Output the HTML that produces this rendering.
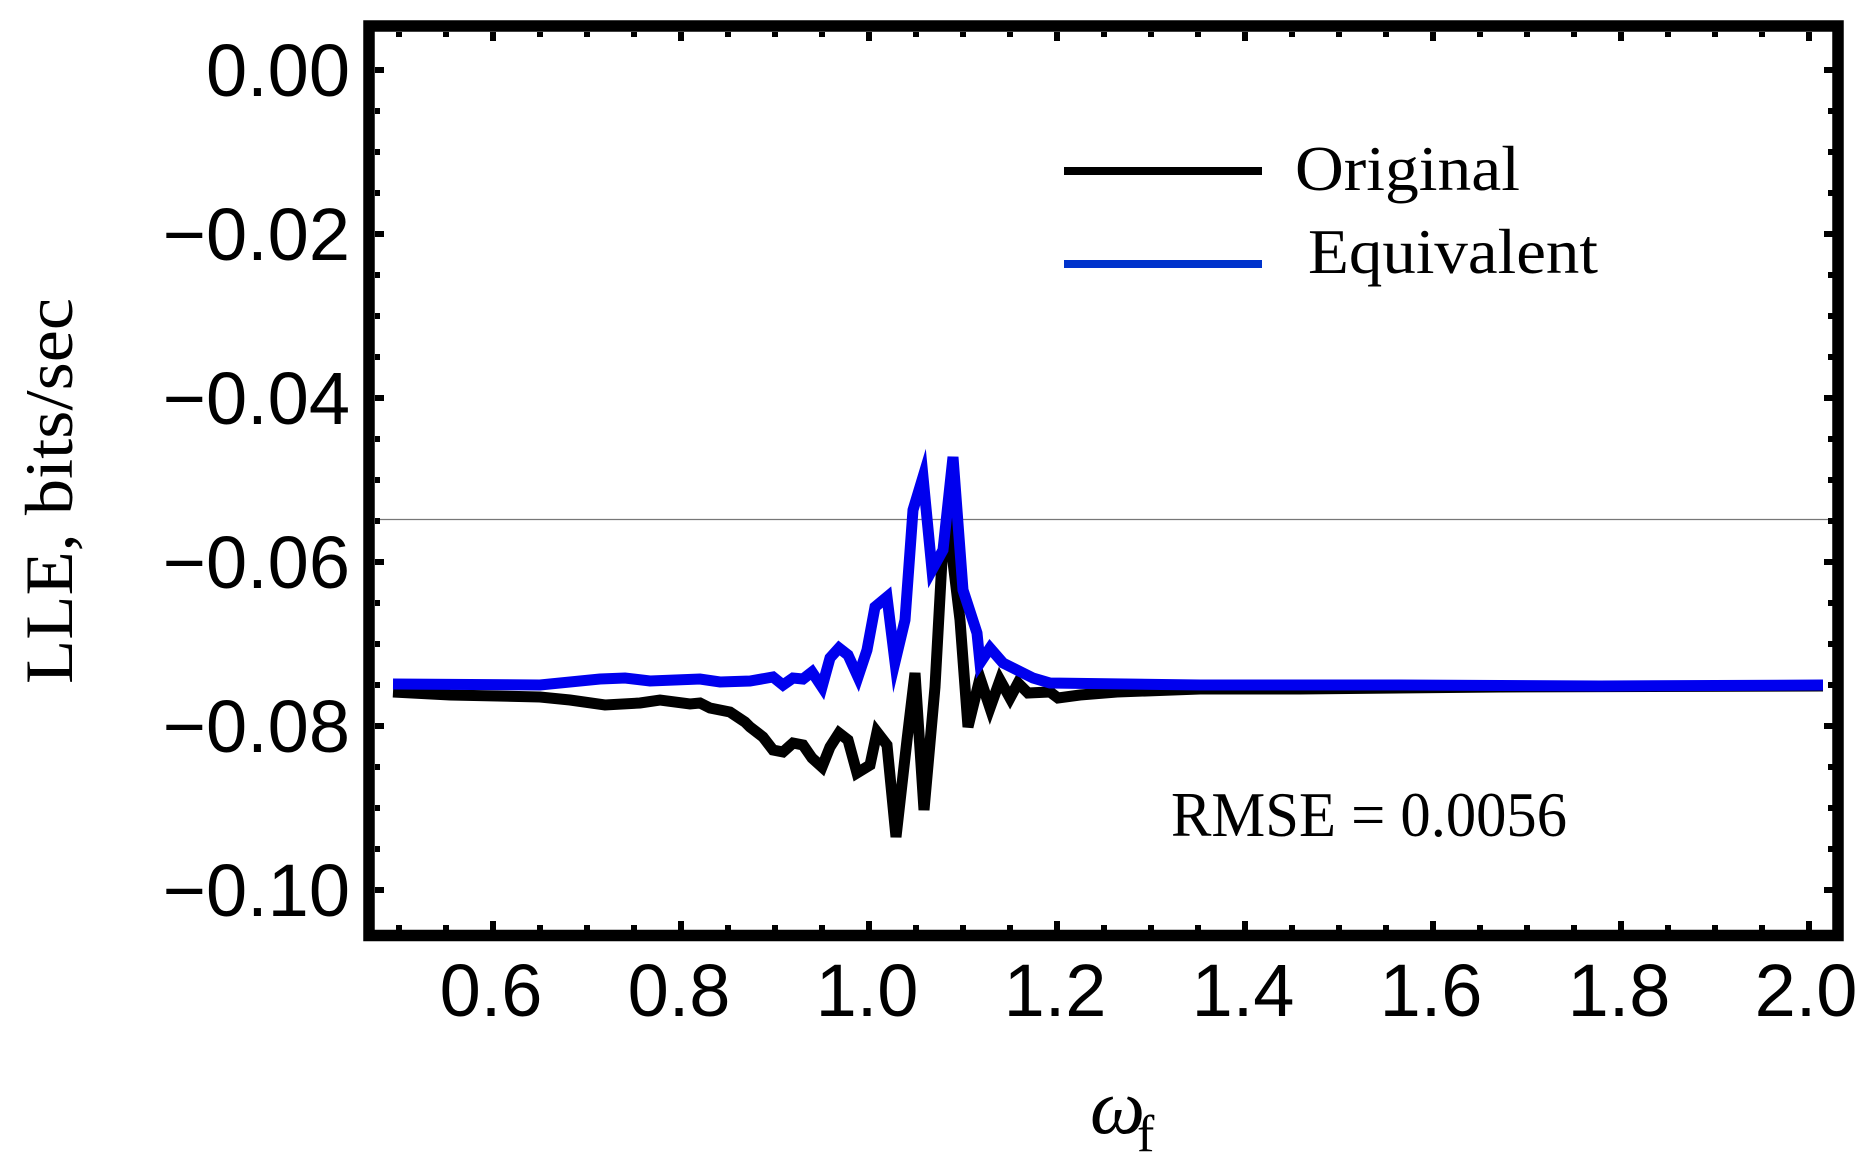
<!DOCTYPE html>
<html><head><meta charset="utf-8"><style>
html,body{margin:0;padding:0;background:#fff;}
svg{display:block;}
</style></head><body>
<svg width="1870" height="1175" viewBox="0 0 1870 1175" xmlns="http://www.w3.org/2000/svg">
<rect width="1870" height="1175" fill="#fff"/>
<line x1="375" y1="519.5" x2="1833" y2="519.5" stroke="#777" stroke-width="1.3"/>
<polyline fill="none" stroke="#000" stroke-width="11" stroke-linejoin="miter" stroke-miterlimit="6" points="
393,692 450,695 540,697 570,700 605,705 640,703 660,700 690,704 700,703 710,708 730,712 745,722 750,727 763,737 773,750 783,752 793,743 803,745 812,758 822,767 830,747 839,733 848,740 857,773 870,765 877,732 887,745 896,837 907,740 915,673 924,810 935,687 942,560 950,537 960,620 968,727 980,678 990,708 1000,680 1010,698 1018,683 1028,693 1050,692 1058,698 1080,695 1117,692 1200,689 1300,689 1500,687 1823,686"/>
<polyline fill="none" stroke="#0000ee" stroke-width="11" stroke-linejoin="miter" stroke-miterlimit="6" points="
393,684 540,685 600,679 625,678 650,681 700,679 720,682 750,681 773,677 783,685 793,678 803,679 812,672 822,687 830,658 839,648 848,655 858,677 867,650 875,607 887,597 895,662 905,620 913,510 923,477 932,570 943,550 953,457 963,590 977,633 980,663 990,648 1003,663 1013,668 1023,673 1033,678 1050,683 1200,685 1400,685 1600,686 1823,685"/>
<rect x="369" y="26" width="1469" height="909.5" fill="none" stroke="#000" stroke-width="11.5"/>
<g stroke="#000" stroke-width="6">
<path d="M375 70h9M375 234h9M375 398h9M375 562h9M375 726h9M375 890h9 M1833 70h-9M1833 234h-9M1833 398h-9M1833 562h-9M1833 726h-9M1833 890h-9"/>
<path d="M375 111h5M375 152h5M375 193h5M375 275h5M375 316h5M375 357h5M375 439h5M375 480h5M375 521h5M375 603h5M375 644h5M375 685h5M375 767h5M375 808h5M375 849h5
M1833 111h-5M1833 152h-5M1833 193h-5M1833 275h-5M1833 316h-5M1833 357h-5M1833 439h-5M1833 480h-5M1833 521h-5M1833 603h-5M1833 644h-5M1833 685h-5M1833 767h-5M1833 808h-5M1833 849h-5"/>
<path d="M493 930v-9M681 930v-9M869 930v-9M1057 930v-9M1245 930v-9M1433 930v-9M1621 930v-9M1809 930v-9
M493 32v9M681 32v9M869 32v9M1057 32v9M1245 32v9M1433 32v9M1621 32v9M1809 32v9"/>
<path d="M399 930v-5M446 930v-5M540 930v-5M587 930v-5M634 930v-5M728 930v-5M775 930v-5M822 930v-5M916 930v-5M963 930v-5M1010 930v-5M1104 930v-5M1151 930v-5M1198 930v-5M1292 930v-5M1339 930v-5M1386 930v-5M1480 930v-5M1527 930v-5M1574 930v-5M1668 930v-5M1715 930v-5M1762 930v-5
M399 32v5M446 32v5M540 32v5M587 32v5M634 32v5M728 32v5M775 32v5M822 32v5M916 32v5M963 32v5M1010 32v5M1104 32v5M1151 32v5M1198 32v5M1292 32v5M1339 32v5M1386 32v5M1480 32v5M1527 32v5M1574 32v5M1668 32v5M1715 32v5M1762 32v5"/>
</g>
<g font-family="Liberation Sans, sans-serif" font-size="74" fill="#000" text-anchor="end">
<text x="350" y="96">0.00</text>
<text x="350" y="260">−0.02</text>
<text x="350" y="424">−0.04</text>
<text x="350" y="588">−0.06</text>
<text x="350" y="752">−0.08</text>
<text x="350" y="916">−0.10</text>
</g>
<g font-family="Liberation Sans, sans-serif" font-size="74" fill="#000" text-anchor="middle">
<text x="491" y="1016">0.6</text>
<text x="679" y="1016">0.8</text>
<text x="867" y="1016">1.0</text>
<text x="1055" y="1016">1.2</text>
<text x="1243" y="1016">1.4</text>
<text x="1431" y="1016">1.6</text>
<text x="1619" y="1016">1.8</text>
<text x="1806" y="1016">2.0</text>
</g>
<line x1="1064" y1="171" x2="1262" y2="171" stroke="#000" stroke-width="8"/>
<line x1="1064" y1="264" x2="1262" y2="264" stroke="#0033cc" stroke-width="8"/>
<g font-family="Liberation Serif, serif" font-size="64" fill="#000">
<text x="1295" y="190" textLength="225" lengthAdjust="spacingAndGlyphs">Original</text>
<text x="1308" y="273" textLength="290" lengthAdjust="spacingAndGlyphs">Equivalent</text>
<text x="1171" y="836" textLength="396" lengthAdjust="spacingAndGlyphs">RMSE = 0.0056</text>
<text transform="translate(72,684) rotate(-90)" font-size="68" textLength="386" lengthAdjust="spacingAndGlyphs">LLE, bits/sec</text>
<text x="1090" y="1133" font-size="78" font-style="italic">ω</text>
<text x="1137" y="1151" font-size="52">f</text>
</g>
</svg>
</body></html>
